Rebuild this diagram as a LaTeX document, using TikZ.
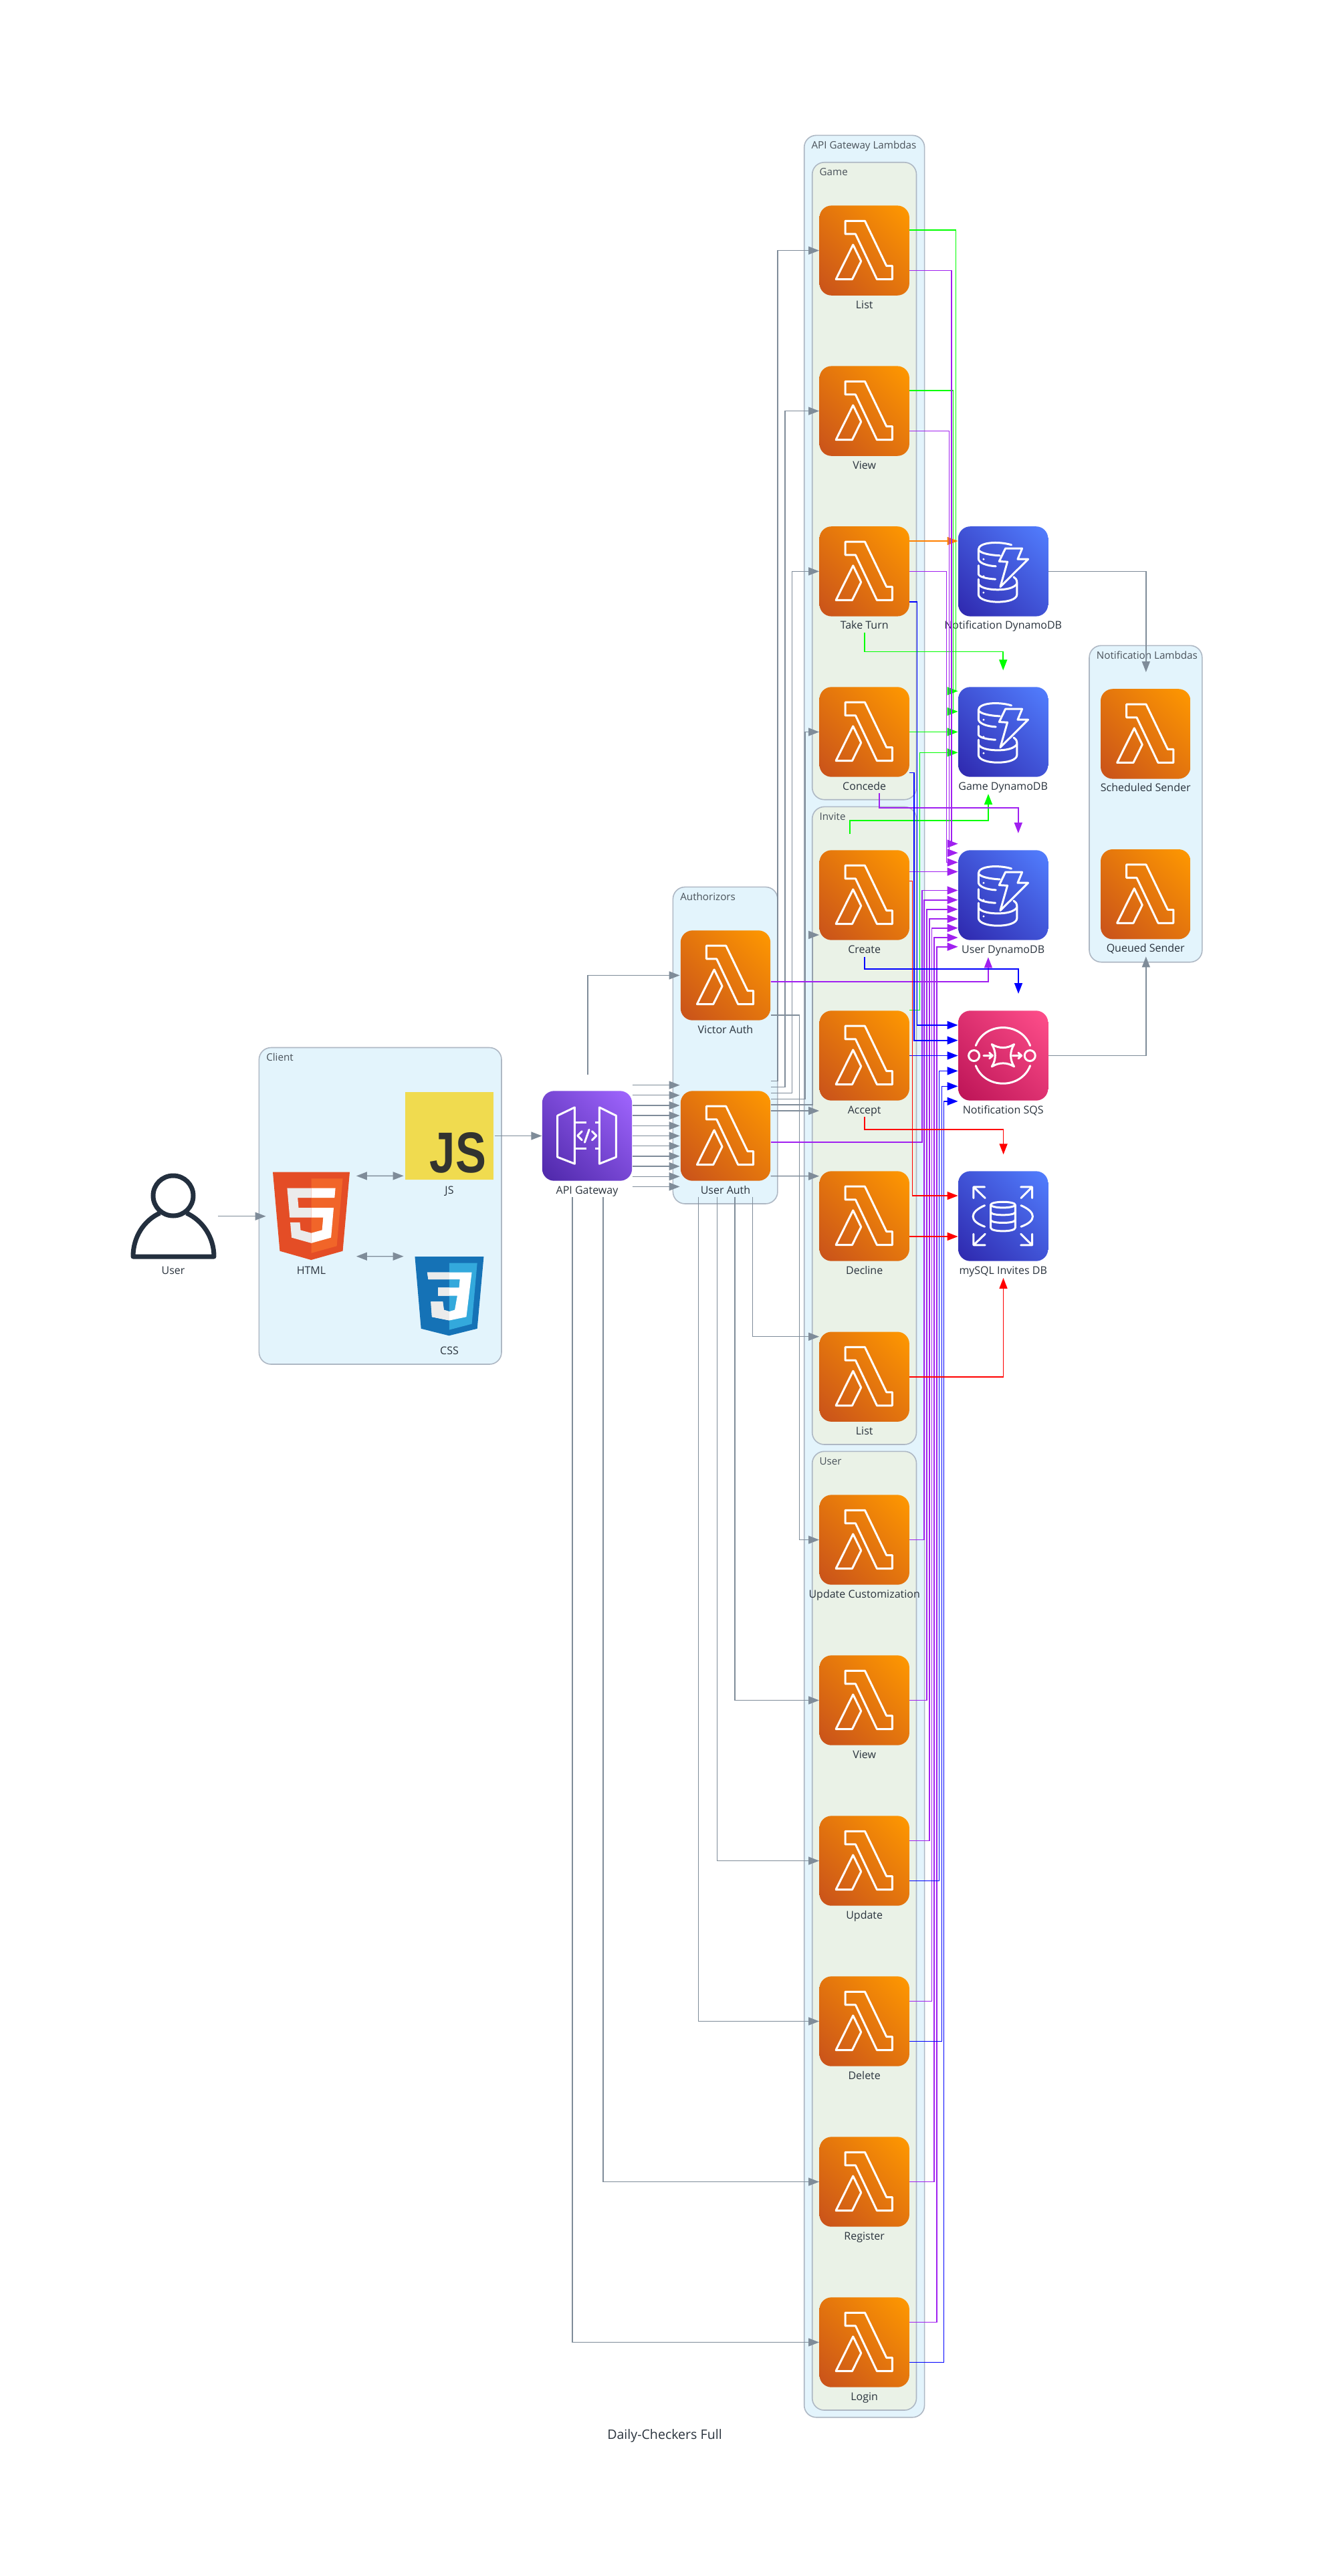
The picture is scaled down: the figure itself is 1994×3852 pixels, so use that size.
\documentclass[tikz,border=0pt]{standalone}
\usepackage{fontspec}
\usepackage{graphicx}
\setmainfont{Open Sans}
\newfontfamily\jsfont{Liberation Sans}
\usetikzlibrary{arrows.meta,fit,shadings}
\definecolor{lamA}{HTML}{C8511B}\definecolor{lamB}{HTML}{FF9900}\colorlet{lamM}{lamA!50!lamB}
\definecolor{dbA}{HTML}{2E27AD}\definecolor{dbB}{HTML}{527FFF}\colorlet{dbM}{dbA!50!dbB}
\definecolor{sqA}{HTML}{BC1356}\definecolor{sqB}{HTML}{FF4F8B}\colorlet{sqM}{sqA!50!sqB}
\definecolor{apA}{HTML}{4D27A8}\definecolor{apB}{HTML}{A166FF}\colorlet{apM}{apA!50!apB}
\definecolor{clBlue}{HTML}{E3F4FC}\definecolor{clGreen}{HTML}{EAF2E7}\definecolor{clLine}{HTML}{AEB8C4}
\definecolor{inkC}{HTML}{2A333D}\definecolor{grayE}{HTML}{7F8C99}\definecolor{puC}{HTML}{A020F0}
\definecolor{navy}{HTML}{232F3E}
\tikzset{
 iconbase/.style={rectangle,inner sep=0pt,minimum size=67.2pt,rounded corners=9pt},
 lamb/.style={iconbase,lower left=lamA,upper right=lamB,upper left=lamM,lower right=lamM},
 dbic/.style={iconbase,lower left=dbA,upper right=dbB,upper left=dbM,lower right=dbM},
 sqic/.style={iconbase,lower left=sqA,upper right=sqB,upper left=sqM,lower right=sqM},
 apic/.style={iconbase,lower left=apA,upper right=apB,upper left=apM,lower right=apM},
 wg/.style={draw=white,line width=1.5pt,line join=round,line cap=round},
 lbl/.style={anchor=base,inner sep=0pt,text=inkC,font=\fontsize{8}{10}\selectfont},
 cltitle/.style={anchor=base west,inner sep=0pt,text=inkC!85!white,font=\fontsize{7.6}{10}\selectfont},
 clbox/.style={draw=clLine,line width=0.8pt,rounded corners=9pt,inner sep=0pt},
 tipT/.style={-{Triangle[length=8pt,width=6pt]}},
 gr/.style={draw=grayE,line width=0.7pt,tipT},
 pu/.style={draw=puC,line width=0.8pt,tipT},
 gn/.style={draw=green,line width=0.8pt,tipT},
 bl/.style={draw=blue,line width=0.8pt,tipT},
 rd/.style={draw=red,line width=0.8pt,tipT},
 og/.style={draw=orange,line width=0.8pt,tipT},
 holder/.style={rectangle,inner sep=0pt},
}
\newcommand\PT[3]{([xshift=#2*0.5pt,yshift=#3*-0.5pt]#1)}
\newcommand\HVH[4]{\path #2 coordinate (tmpA); \path #4 coordinate (tmpB);
 \draw[#1] (tmpA) -- (#3,0 |- tmpA) -- (#3,0 |- tmpB) -- (tmpB);}
\newcommand\VHV[4]{\path #2 coordinate (tmpA); \path #4 coordinate (tmpB);
 \draw[#1] (tmpA) -- (tmpA |- 0,#3) -- (tmpB |- 0,#3) -- (tmpB);}
\newcommand\gLam{\draw[wg] (117,70)--(205,70)--(302,272)--(328,272)--(328,332)--(259,332)--(163,129)--(117,129)--cycle;
 \draw[wg] (152,177)--(75,332)--(148,332)--(188,251)--cycle;}
\newcommand\gDDB{
 \draw[wg] (240,84) .. controls (180,66) and (92,72) .. (92,105) -- (92,145) .. controls (92,165) and (130,178) .. (170,180);
 \draw[wg] (92,105) .. controls (97,120) and (140,130) .. (188,132);
 \draw[wg] (92,176) -- (92,215) .. controls (95,228) and (130,236) .. (168,238);
 \draw[wg] (92,238) -- (92,305) .. controls (92,330) and (140,340) .. (178,340) .. controls (220,340) and (265,330) .. (265,305) -- (265,255) .. controls (265,240) and (258,232) .. (250,228);
 \draw[wg] (92,258) .. controls (100,280) and (150,285) .. (178,285) .. controls (210,285) and (250,280) .. (265,258);
 \fill[white] (115,148) circle (5) (115,225) circle (5) (115,298) circle (5);
 \draw[wg] (213,100)--(288,100)--(268,148)--(315,148)--(190,272)--(222,160)--(185,158)--cycle;}
\newcommand\gSQS{
 \draw[wg] (72,203) circle (24) (323,203) circle (24);
 \draw[wg] (80,158) .. controls (100,105) and (150,77) .. (202,77) .. controls (254,77) and (304,105) .. (324,158);
 \draw[wg] (80,248) .. controls (100,300) and (150,328) .. (202,328) .. controls (254,328) and (304,300) .. (324,248);
 \draw[wg] (115,203)--(155,203) (141,190)--(155,203)--(141,216);
 \draw[wg] (245,203)--(285,203) (271,190)--(285,203)--(271,216);
 \draw[wg] (152,152) .. controls (185,172) and (220,172) .. (252,152) .. controls (232,185) and (232,220) .. (252,252) .. controls (220,232) and (185,232) .. (152,252) .. controls (172,220) and (172,185) .. (152,152) -- cycle;}
\newcommand\gRDS{
 \draw[wg] (202,152) ellipse (55 and 13);
 \draw[wg] (147,152) -- (147,255) .. controls (147,275) and (257,275) .. (257,255) -- (257,152);
 \draw[wg] (147,185) .. controls (147,202) and (257,202) .. (257,185);
 \draw[wg] (147,220) .. controls (147,237) and (257,237) .. (257,220);
 \draw[wg] (120,155) .. controls (50,185) and (50,225) .. (120,250);
 \draw[wg] (283,155) .. controls (353,185) and (353,225) .. (283,250);
 \draw[wg] (120,72)--(70,72)--(70,122) (72,74)--(122,122);
 \draw[wg] (282,72)--(333,72)--(333,122) (331,74)--(283,122);
 \draw[wg] (70,283)--(70,333)--(122,333) (72,331)--(122,283);
 \draw[wg] (333,283)--(333,333)--(282,333) (331,331)--(282,283);}
\newcommand\gAPI{
 \draw[wg] (70,112)--(147,75)--(147,328)--(70,298)--cycle;
 \draw[wg] (258,75)--(333,112)--(333,298)--(258,328)--cycle;
 \draw[wg,line cap=butt,dash pattern=on 9pt off 6.5pt] (147,143)--(258,143) (147,260)--(258,260);
 \draw[wg] (180,182)--(160,202)--(180,222) (225,182)--(245,202)--(225,222) (212,175)--(192,232);}
\newcommand\mkicon[6]{\node[#1] (#3) at (#4,#5) {};
 \begin{scope}[shift={(#3.north west)},scale=0.3333] #2 \end{scope}
 \node[lbl] (#3-t) at (#4,#5+86.5) {#6};}
\newcommand\mkcluster[7]{\node[clbox,fill=#2,minimum width=(#5-#3)*0.5pt,minimum height=(#6-#4)*0.5pt] (#1) at ({(#3+#5)/2},{(#4+#6)/2}) {};
 \node[cltitle] (#1-t) at (#3+10.5,#4+20) {#7};}
\begin{document}
\begin{tikzpicture}[x=0.5pt,y=-0.5pt]
\path[use as bounding box,fill=white] (0,0) rectangle (1994,3852);
% clusters
\mkcluster{cApi}{clBlue}{1202.7}{202.4}{1382.6}{3614.7}{API Gateway Lambdas}
\mkcluster{cGame}{clGreen}{1214.7}{242.8}{1370.5}{1195.7}{Game}
\mkcluster{cInvite}{clGreen}{1214.7}{1206.4}{1370.5}{2160}{Invite}
\mkcluster{cUser}{clGreen}{1214.7}{2170.3}{1370.5}{3604}{User}
\mkcluster{cClient}{clBlue}{387.4}{1566.5}{750}{2040}{Client}
\mkcluster{cAuth}{clBlue}{1006.4}{1326.4}{1162.9}{1800}{Authorizors}
\mkcluster{cNotif}{clBlue}{1629}{965.3}{1797.8}{1438.7}{Notification Lambdas}
% lambdas
\mkicon{lamb}{\gLam}{gameList}{1292.7}{374.6}{List}
\mkicon{lamb}{\gLam}{gameView}{1292.7}{614.6}{View}
\mkicon{lamb}{\gLam}{takeTurn}{1292.7}{854.4}{Take Turn}
\mkicon{lamb}{\gLam}{concede}{1292.7}{1094.5}{Concede}
\mkicon{lamb}{\gLam}{create}{1292.7}{1338.5}{Create}
\mkicon{lamb}{\gLam}{accept}{1292.7}{1578.5}{Accept}
\mkicon{lamb}{\gLam}{decline}{1292.7}{1818.5}{Decline}
\mkicon{lamb}{\gLam}{inviteList}{1292.7}{2058.7}{List}
\mkicon{lamb}{\gLam}{updCust}{1292.7}{2302.5}{Update Customization}
\mkicon{lamb}{\gLam}{userView}{1292.7}{2542.5}{View}
\mkicon{lamb}{\gLam}{update}{1292.7}{2782.5}{Update}
\mkicon{lamb}{\gLam}{deleteL}{1292.7}{3022.5}{Delete}
\mkicon{lamb}{\gLam}{register}{1292.7}{3262.5}{Register}
\mkicon{lamb}{\gLam}{login}{1292.7}{3502.5}{Login}
\mkicon{lamb}{\gLam}{victor}{1085}{1458.5}{Victor Auth}
\mkicon{lamb}{\gLam}{userAuth}{1085}{1698.5}{User Auth}
\mkicon{lamb}{\gLam}{scheduled}{1713.2}{1097.4}{Scheduled Sender}
\mkicon{lamb}{\gLam}{queued}{1713.2}{1337.2}{Queued Sender}
% stores
\mkicon{dbic}{\gDDB}{notifDB}{1500.2}{854.4}{Notification DynamoDB}
\mkicon{dbic}{\gDDB}{gameDB}{1500.2}{1094.5}{Game DynamoDB}
\mkicon{dbic}{\gDDB}{userDB}{1500.2}{1338.5}{User DynamoDB}
\mkicon{sqic}{\gSQS}{sqs}{1500.2}{1578.5}{Notification SQS}
\mkicon{dbic}{\gRDS}{rds}{1500.2}{1818.5}{mySQL Invites DB}
\mkicon{apic}{\gAPI}{apigw}{878}{1698.5}{API Gateway}
% user
\node[holder,minimum width=63.2pt,minimum height=63pt] (usr) at (259,1818) {};
\draw[draw=navy,line width=3.5pt] (usr.center) ++(0,-30) ellipse (30 and 30);
\draw[draw=navy,line width=3.5pt,line join=round] (239,1814) .. controls (215,1825) and (199,1850) .. (199,1879) -- (320,1879) .. controls (320,1850) and (303,1825) .. (279,1814);
\node[lbl] (usr-t) at (259,1905) {User};
% html
\node[holder,minimum width=57.5pt,minimum height=65.6pt] (html) at (465.5,1818.4) {};
\begin{scope}[shift={(400.35,1752.7)},xscale=0.255,yscale=0.2565]
\fill[color={rgb,255:red,228;green,77;blue,38}] (71,460)--(30,0)--(481,0)--(440,460)--(255,512)--cycle;
\fill[color={rgb,255:red,241;green,101;blue,41}] (256,472)--(405,431)--(440,37.7)--(256,37.7)--cycle;
\fill[color={rgb,255:red,235;green,235;blue,235}] (256,208.1)--(181.1,208.1)--(175.9,150)--(256,150)--(256,93.4)--(114,93.4)--(115.4,108.6)--(129.3,265)--(256,265)--cycle;
\fill[color={rgb,255:red,235;green,235;blue,235}] (256,355.1)--(255.7,355.2)--(192.8,338.2)--(188.8,293.2)--(132.2,293.2)--(140.1,381.8)--(255.7,413.9)--(256,413.8)--cycle;
\fill[white] (255.8,208.1)--(255.8,264.7)--(325.4,264.7)--(318.8,338)--(255.8,355)--(255.8,413.9)--(371.5,381.8)--(385.6,223.5)--(387,208.1)--cycle;
\fill[white] (255.8,93.4)--(255.8,150)--(392.1,150)--(397.1,93.4)--cycle;
\end{scope}
\node[lbl] (html-t) at (465.5,1905) {HTML};
% js
\node[holder,minimum width=66.1pt,minimum height=65.75pt,fill={rgb,255:red,240;green,219;blue,79}] (js) at (672,1698.5) {};
\node[anchor=base east,inner sep=0pt,text={rgb,255:red,50;green,51;blue,48},font=\jsfont\fontsize{43}{43}\selectfont\bfseries] (js-g) at (727.5,1753.5) {\scalebox{0.8}[1]{JS}};
\node[lbl] (js-t) at (672,1785.5) {JS};
% css
\node[holder,minimum width=51.5pt,minimum height=59pt] (css) at (672,1938) {};
\begin{scope}[shift={(150,1550)},xscale=0.542,yscale=0.3508]
\fill[color={rgb,255:red,21;green,114;blue,182}] (868,938)--(1058,938)--(1040,1245)--(962,1275)--(885,1245)--cycle;
\fill[color={rgb,255:red,51;green,169;blue,220}] (963,965)--(1040,965)--(1025,1225)--(963,1250)--cycle;
\fill[white] (902,1005)--(1025,1005)--(1010,1195)--(963,1210)--(915,1195)--(912,1130)--(945,1130)--(948,1165)--(963,1172)--(978,1165)--(985,1105)--(932,1105)--(932,1070)--(990,1070)--(992,1035)--(905,1035)--cycle;
\begin{scope}
\clip (880,990) rectangle (963,1220);
\fill[color={rgb,255:red,235;green,235;blue,235}] (902,1005)--(1025,1005)--(1010,1195)--(963,1210)--(915,1195)--(912,1130)--(945,1130)--(948,1165)--(963,1172)--(978,1165)--(985,1105)--(932,1105)--(932,1070)--(990,1070)--(992,1035)--(905,1035)--cycle;
\end{scope}
\end{scope}
\node[lbl] (css-t) at (672,2025) {CSS};
% title
\node[lbl,font=\fontsize{9.8}{12}\selectfont] (title) at (994,3647) {Daily-Checkers Full};
% gray edges
\draw[gr] \PT{usr.east}{3.6}{0.7} -- \PT{html.west}{-10}{0.3};
\draw[gr,{Triangle[length=8pt,width=6pt]}-{Triangle[length=8pt,width=6pt]}] \PT{html.east}{9.5}{-60} -- \PT{js.west}{-1.8}{59.8};
\draw[gr,{Triangle[length=8pt,width=6pt]}-{Triangle[length=8pt,width=6pt]}] \PT{html.east}{9.5}{60.3} -- \PT{css.west}{-16.5}{-59.3};
\draw[gr] \PT{js.east}{1}{0} -- (apigw.west);
\foreach \d in {-75.9,-60.72,-45.54,-30.36,-15.18,0,15.18,30.36,45.54,60.72,75.9}
 \draw[gr] \PT{apigw.east}{0}{\d} -- \PT{userAuth.west}{-0.8}{\d};
\draw[gr] \PT{apigw.north}{1}{-24.4} |- \PT{victor.west}{-0.8}{0};
\draw[gr] \PT{apigw.south}{23.8}{24} |- (register.west);
\draw[gr] \PT{apigw.south}{-22}{24} |- (login.west);
\HVH{gr}{\PT{userAuth.east}{0}{-82.1}}{1163}{(gameList.west)}
\HVH{gr}{\PT{userAuth.east}{0}{-73.1}}{1174}{(gameView.west)}
\HVH{gr}{\PT{userAuth.east}{0}{-64.2}}{1184.5}{(takeTurn.west)}
\HVH{gr}{\PT{userAuth.east}{0}{-55.3}}{1204}{(concede.west)}
\HVH{gr}{\PT{userAuth.east}{0}{-46.4}}{1215.4}{\PT{create.west}{0}{59.5}}
\draw[gr] \PT{userAuth.east}{0}{-37.5} -- \PT{accept.west}{0}{82.5};
\draw[gr] \PT{userAuth.east}{0}{60.1} -- \PT{decline.west}{0}{-59.8};
\HVH{gr}{\PT{victor.east}{0}{59.5}}{1195.4}{(updCust.west)}
\draw[gr] \PT{userAuth.south}{-40.4}{23.6} |- (deleteL.west);
\draw[gr] \PT{userAuth.south}{-12.5}{23.6} |- (update.west);
\draw[gr] \PT{userAuth.south}{14}{23.6} |- (userView.west);
\draw[gr] \PT{userAuth.south}{40.7}{23.6} |- \PT{inviteList.west}{0}{-60};
\draw[gr] (notifDB.east) -| \PT{scheduled.north}{0.6}{-24.7};
\draw[gr] (sqs.east) -| \PT{queued.south}{0.6}{25.6};
% green
\HVH{gn}{\PT{gameList.east}{0}{-30.8}}{1429.5}{\PT{gameDB.west}{0}{-61.1}}
\HVH{gn}{\PT{gameView.east}{0}{-30.6}}{1425.4}{\PT{gameDB.west}{0}{-30.5}}
\draw[gn] (concede.east) -- (gameDB.west);
\HVH{gn}{\PT{accept.east}{0}{-68.1}}{1375.5}{\PT{gameDB.west}{0}{30.8}}
\VHV{gn}{\PT{takeTurn.south}{0}{24}}{974.6}{\PT{gameDB.north}{0}{-24.5}}
\VHV{gn}{\PT{create.north}{-21.7}{-23.8}}{1226.7}{\PT{gameDB.south}{-22.2}{25}}
% orange
\draw[og] \PT{takeTurn.east}{0}{-45.4} -- \PT{notifDB.west}{0}{-45.4};
% purple
\HVH{pu}{\PT{gameList.east}{0}{30}}{1423.2}{\PT{userDB.west}{0}{-76.8}}
\HVH{pu}{\PT{gameView.east}{0}{30}}{1419.4}{\PT{userDB.west}{0}{-63.2}}
\HVH{pu}{(takeTurn.east)}{1415.6}{\PT{userDB.west}{0}{-49}}
\draw[pu] \PT{create.east}{0}{-35} -- \PT{userDB.west}{0}{-35};
\VHV{pu}{\PT{concede.south}{22.3}{23.8}}{1208}{\PT{userDB.north}{22.6}{-24.9}}
\path \PT{victor.east}{0}{9.4} coordinate (tmpA);
\draw[pu] (tmpA) -| \PT{userDB.south}{-22.3}{25.2};
\HVH{pu}{\PT{userAuth.east}{0}{9.4}}{1378.8}{\PT{userDB.west}{0}{-7.1}}
\HVH{pu}{(updCust.east)}{1381.8}{\PT{userDB.west}{0}{7.2}}
\HVH{pu}{(userView.east)}{1385.8}{\PT{userDB.west}{0}{21.2}}
\HVH{pu}{\PT{update.east}{0}{-30}}{1390}{\PT{userDB.west}{0}{35.5}}
\HVH{pu}{\PT{deleteL.east}{0}{-30}}{1393.5}{\PT{userDB.west}{0}{49.2}}
\HVH{pu}{(register.east)}{1396.7}{\PT{userDB.west}{0}{63.5}}
\HVH{pu}{\PT{login.east}{0}{-30}}{1400.7}{\PT{userDB.west}{0}{77.2}}
% blue
\HVH{bl}{\PT{takeTurn.east}{0}{45.6}}{1371.4}{\PT{sqs.west}{0}{-45.6}}
\HVH{bl}{\PT{concede.east}{0}{61}}{1367}{\PT{sqs.west}{0}{-22.8}}
\draw[bl] (accept.east) -- (sqs.west);
\HVH{bl}{\PT{update.east}{0}{30}}{1404.4}{\PT{sqs.west}{0}{22.9}}
\HVH{bl}{\PT{deleteL.east}{0}{30}}{1408.3}{\PT{sqs.west}{0}{45.8}}
\HVH{bl}{\PT{login.east}{0}{30}}{1411.3}{\PT{sqs.west}{0}{68.3}}
\VHV{bl}{\PT{create.south}{0}{25}}{1449}{\PT{sqs.north}{22.8}{-24.9}}
% red
\HVH{rd}{\PT{create.east}{0}{-21}}{1364.3}{\PT{rds.west}{0}{-30.5}}
\draw[rd] \PT{decline.east}{0}{30.5} -- \PT{rds.west}{0}{30.5};
\VHV{rd}{\PT{accept.south}{0}{24.3}}{1689}{\PT{rds.north}{0.4}{-24.6}}
\path (inviteList.east) coordinate (tmpA);
\draw[rd] (tmpA) -| \PT{rds.south}{0.3}{24.8};
\end{tikzpicture}
\end{document}
